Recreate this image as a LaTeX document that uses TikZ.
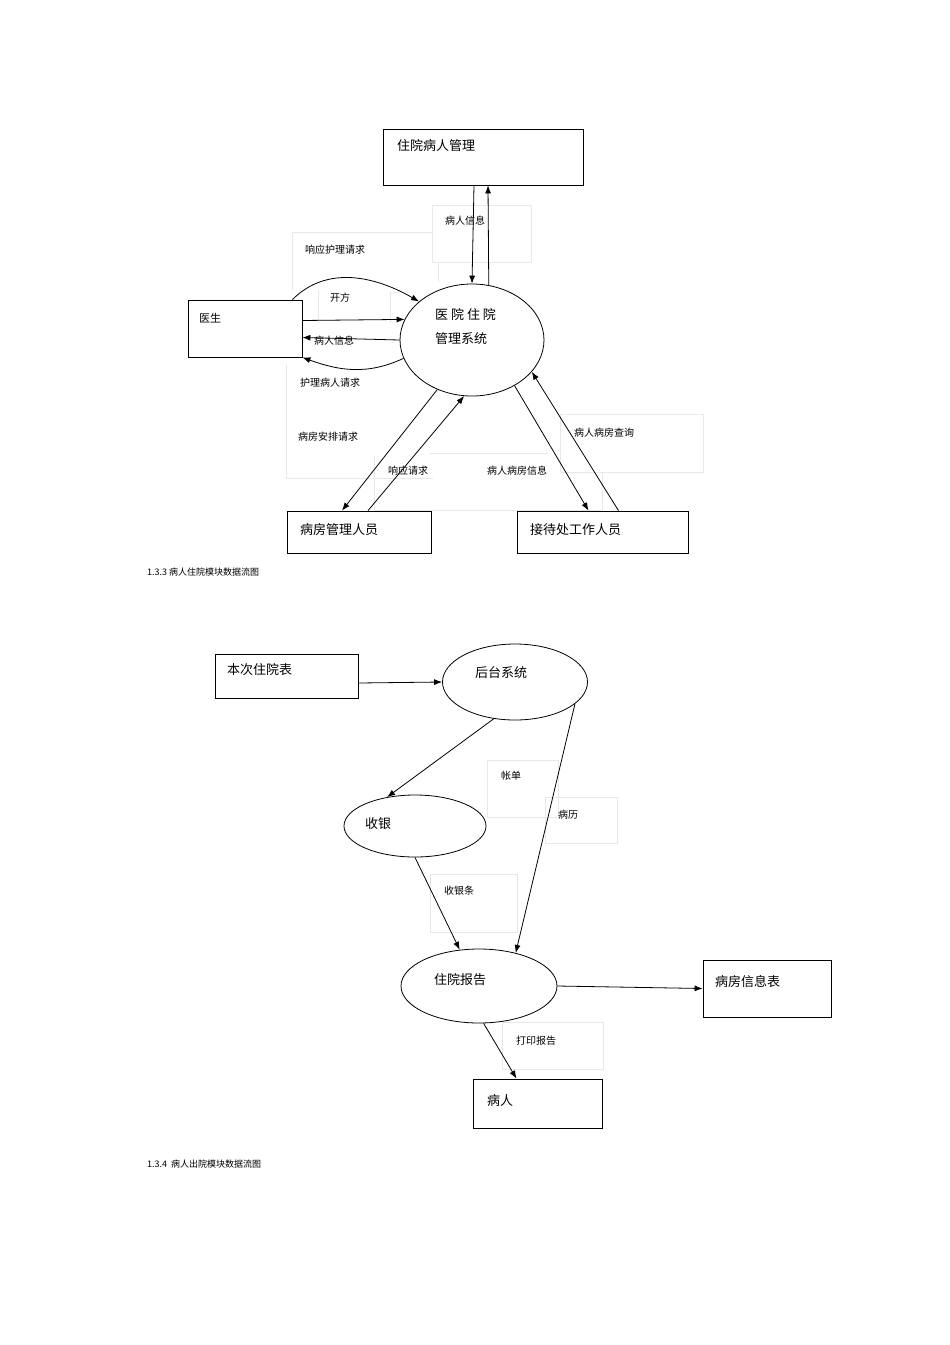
\documentclass[tikz,border=0pt]{standalone}
\usepackage{fontspec}
\setmainfont{Liberation Serif}
\newfontfamily\cjk{Noto Sans CJK SC}
\usetikzlibrary{shapes.geometric,arrows.meta}

\tikzset{
    box/.style={draw, thick, rectangle, inner sep=0pt},
    oval/.style={draw, thick, ellipse, inner sep=0pt},
    big/.style={anchor=west, inner sep=0pt, font=\cjk\fontsize{13}{15}\selectfont},
    small/.style={anchor=west, inner sep=0pt, font=\cjk\fontsize{10}{12}\selectfont},
    lbox/.style={draw=gray!18, thin},
    flow/.style={thick, -{Latex[length=8pt,width=6pt]}}
}

\begin{document}
\begin{tikzpicture}[x=1pt,y=-1pt]

    \useasboundingbox (0,0) rectangle (950,1345);

    % faint label boxes, upper picture
    \draw[lbox] (432,205) rectangle (531,262);
    \draw[lbox] (292,232) -- (432,232) (292,232) -- (292,290);
    \draw[lbox] (438,262) -- (438,282);
    \draw[lbox] (318,290) -- (318,323) (390,292) -- (400,292) (390,292) -- (390,323);
    \draw[lbox] (286,365) -- (286,478) -- (433,478);
    \draw[lbox] (374,456) -- (374,510) (374,510) -- (602,510) (430,453) -- (548,453);
    \draw[lbox] (560,414) rectangle (703,472);
    \draw[lbox] (602,472) -- (602,510);

    % upper picture
    \node[box, minimum width=200pt, minimum height=56pt] (top) at (483,157) {};
    \node[big] (topt) at (397,146) {住院病人管理};
    \node[box, minimum width=114pt, minimum height=57pt] (doc) at (245,328.5) {};
    \node[small, font=\cjk\fontsize{11}{13}\selectfont] (doct) at (199,318) {医生};
    \node[oval, minimum width=144pt, minimum height=112pt] (sys) at (472,340) {};
    \node[big] (syst1) at (435,314) {医\ 院\ 住\ 院};
    \node[big] (syst2) at (435,339) {管理系统};
    \node[box, minimum width=144pt, minimum height=42pt] (ward) at (359,532) {};
    \node[big] (wardt) at (300,530) {病房管理人员};
    \node[box, minimum width=171pt, minimum height=42pt] (rec) at (602.5,532) {};
    \node[big] (rect) at (530,530) {接待处工作人员};

    \draw[flow] ([xshift=-9]top.south) -- (sys.north);
    \draw[flow] (sys.73) -- ([xshift=5]top.south);
    \draw[flow] ([xshift=-10]doc.north east) to[out=45,in=150] (sys.144);
    \draw[flow] ([yshift=8]doc.east) -- (sys.163);
    \draw[flow] (sys.west) -- ([yshift=-9]doc.east);
    \draw[flow] (sys.195) to[out=205,in=-20] (doc.south east);
    \draw[flow] (sys.235) -- ([xshift=-17]ward.north);
    \draw[flow] ([xshift=9]ward.north) -- (sys.262);
    \draw[flow] (sys.313) -- ([xshift=-14]rec.north);
    \draw[flow] ([xshift=16]rec.north) -- (sys.332);

    \node[small] (l1) at (445,221) {病人信息};
    \node[small] (l2) at (305,250) {响应护理请求};
    \node[small] (l3) at (330,298) {开方};
    \node[small] (l4) at (314,341) {病人信息};
    \node[small] (l5) at (300,383) {护理病人请求};
    \node[small] (l6) at (298,437) {病房安排请求};
    \node[small] (l7) at (388,471) {响应请求};
    \node[small] (l8) at (487,471) {病人病房信息};
    \node[small] (l9) at (574,433) {病人病房查询};
    \node[small, font=\cjk\fontsize{9}{11}\selectfont] (cap1) at (147,572) {1.3.3 病人住院模块数据流图};

    % faint label boxes, lower picture
    \draw[lbox] (487,760) rectangle (558,817);
    \draw[lbox] (545,797) rectangle (617,843);
    \draw[lbox] (430,874) rectangle (517,932);
    \draw[lbox] (502,1022) rectangle (603,1069);

    % lower picture
    \node[box, minimum width=143pt, minimum height=44pt] (form) at (286.5,676) {};
    \node[big] (formt) at (227,670) {本次住院表};
    \node[oval, minimum width=145pt, minimum height=76pt] (back) at (515,682) {};
    \node[big] (backt) at (475,673) {后台系统};
    \node[oval, minimum width=142pt, minimum height=62pt] (cash) at (415,826) {};
    \node[big] (casht) at (365,824) {收银};
    \node[oval, minimum width=156pt, minimum height=74pt] (report) at (479,986) {};
    \node[big] (reportt) at (434,980) {住院报告};
    \node[box, minimum width=128pt, minimum height=57pt] (rinfo) at (767,988.5) {};
    \node[big] (rinfot) at (715,981) {病房信息表};
    \node[box, minimum width=129pt, minimum height=49pt] (pat) at (537.5,1103.5) {};
    \node[big] (patt) at (487,1101) {病人};

    \draw[flow] ([yshift=-7]form.east) -- (back.west);
    \draw[flow] (back.240) -- (cash.134);
    \draw[flow] (back.-20) -- (report.42);
    \draw[flow] (cash.south) -- (report.118);
    \draw[flow] (report.-83) -- ([xshift=-21]pat.north);
    \draw[flow] (report.east) -- (rinfo.west);

    \node[small] (m1) at (501,776) {帐单};
    \node[small] (m2) at (558,815) {病历};
    \node[small] (m3) at (444,891) {收银条};
    \node[small] (m4) at (516,1041) {打印报告};
    \node[small, font=\cjk\fontsize{9}{11}\selectfont] (cap2) at (147,1164) {1.3.4\ \ 病人出院模块数据流图};

\end{tikzpicture}
\end{document}
